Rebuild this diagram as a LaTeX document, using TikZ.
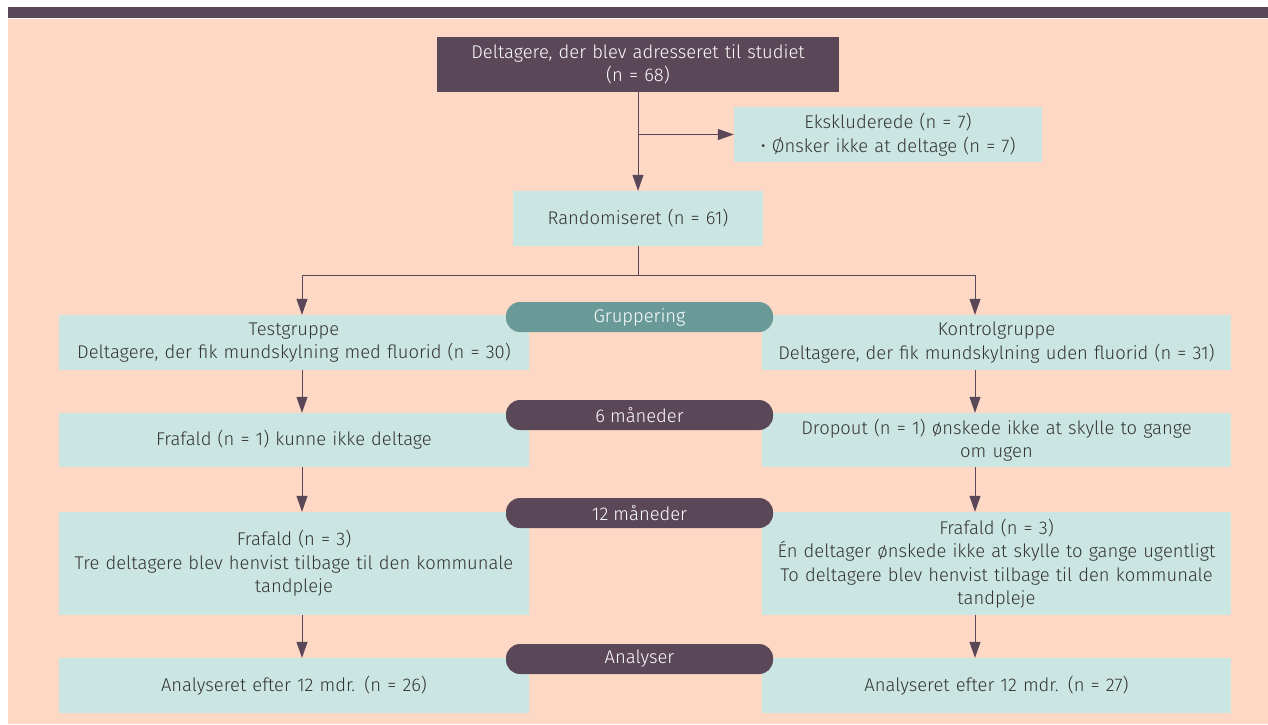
\documentclass[tikz,border=0pt]{standalone}
\usepackage{fontspec}
\setmainfont{Fira Sans}[UprightFont=* Light]
\usepackage{tikz}
\usetikzlibrary{arrows.meta,positioning}
\definecolor{peach}{HTML}{FDD8C5}
\definecolor{mint}{HTML}{CBE6E2}
\definecolor{plum}{HTML}{5A4757}
\definecolor{sea}{HTML}{699A97}
\definecolor{ink}{HTML}{333333}

\begin{document}
\begin{tikzpicture}[x=1pt, y=-1pt,
      every node/.style={font=\fontsize{18.4}{23.5}\selectfont, align=center, inner sep=2pt},
      box/.style={fill=mint, text=ink, minimum width=470pt, text width=462pt, minimum height=55pt},
      topbox/.style={fill=plum, text=white, minimum width=402pt, text width=394pt, minimum height=55pt},
      pill/.style={fill=#1, text=white, rounded corners=14pt, minimum width=267pt, minimum height=30pt},
      arr/.style={draw=plum, line width=1pt, -{Triangle[length=16pt, width=11pt]}},
      ln/.style={draw=plum, line width=1pt}]
   % background
   \useasboundingbox (0,0) rectangle (1268,724);
   \fill[white] (0,0) rectangle (1268,724);
   \fill[plum] (8,7) rectangle (1268,18.3);
   \fill[peach] (8,19.3) rectangle (1268,724);

   % top of the chart
   \node[topbox] (adr) at (638,64.5) {Deltagere, der blev adresseret til studiet\\(n = 68)};
   \node[box, minimum width=308pt, text width=300pt] (ekskl) at (888,134.5) {Ekskluderede (n = 7)\\\textbullet{} Ønsker ikke at deltage (n = 7)};
   \node[box, minimum width=250pt, text width=242pt] (rand) at (638,218.5) {Randomiseret (n = 61)};

   % two arms
   \node[box] (test) at (294,342.5) {Testgruppe\\Deltagere, der fik mundskylning med fluorid (n = 30)};
   \node[box, minimum width=469pt] (kontrol) at (996.5,342.5) {Kontrolgruppe\\Deltagere, der fik mundskylning uden fluorid (n = 31)};
   \node[box, minimum height=54pt] (fra6) at (294,440) {Frafald (n = 1) kunne ikke deltage};
   \node[box, minimum width=469pt, minimum height=54pt] (drop6) at (996.5,440) {Dropout (n = 1) ønskede ikke at skylle to gange\\om ugen};
   \node[box, minimum height=103pt] (fra12) at (294,563.5) {Frafald (n = 3)\\Tre deltagere blev henvist tilbage til den kommunale\\tandpleje};
   \node[box, minimum width=469pt, minimum height=103pt] (drop12) at (996.5,563.5) {Frafald (n = 3)\\Én deltager ønskede ikke at skylle to gange ugentligt\\To deltagere blev henvist tilbage til den kommunale\\tandpleje};
   \node[box] (ana1) at (294,685.5) {Analyseret efter 12 mdr. (n = 26)};
   \node[box, minimum width=469pt] (ana2) at (996.5,685.5) {Analyseret efter 12 mdr. (n = 27)};

   % stage labels
   \node[pill=sea] (grp) at (639.5,317) {Gruppering};
   \node[pill=plum] (m6) at (639.5,415) {6 måneder};
   \node[pill=plum] (m12) at (639.5,513) {12 måneder};
   \node[pill=plum] (anl) at (639.5,659) {Analyser};

   % connectors
   \coordinate (split) at (638,275);
   \coordinate (lx) at (302,275);
   \coordinate (rx) at (975,275);
   \draw[arr] (adr) -- (rand);
   \draw[arr] (adr.south |- ekskl.west) -- (ekskl.west);
   \draw[ln] (rand) -- (split);
   \draw[ln] (lx) -- (rx);
   \draw[arr] (lx) -- (lx |- test.north);
   \draw[arr] (rx) -- (rx |- kontrol.north);
   \draw[arr] (test.south -| lx) -- (fra6.north -| lx);
   \draw[arr] (fra6.south -| lx) -- (fra12.north -| lx);
   \draw[arr] (fra12.south -| lx) -- (ana1.north -| lx);
   \draw[arr] (kontrol.south -| rx) -- (drop6.north -| rx);
   \draw[arr] (drop6.south -| rx) -- (drop12.north -| rx);
   \draw[arr] (drop12.south -| rx) -- (ana2.north -| rx);
\end{tikzpicture}
\end{document}
